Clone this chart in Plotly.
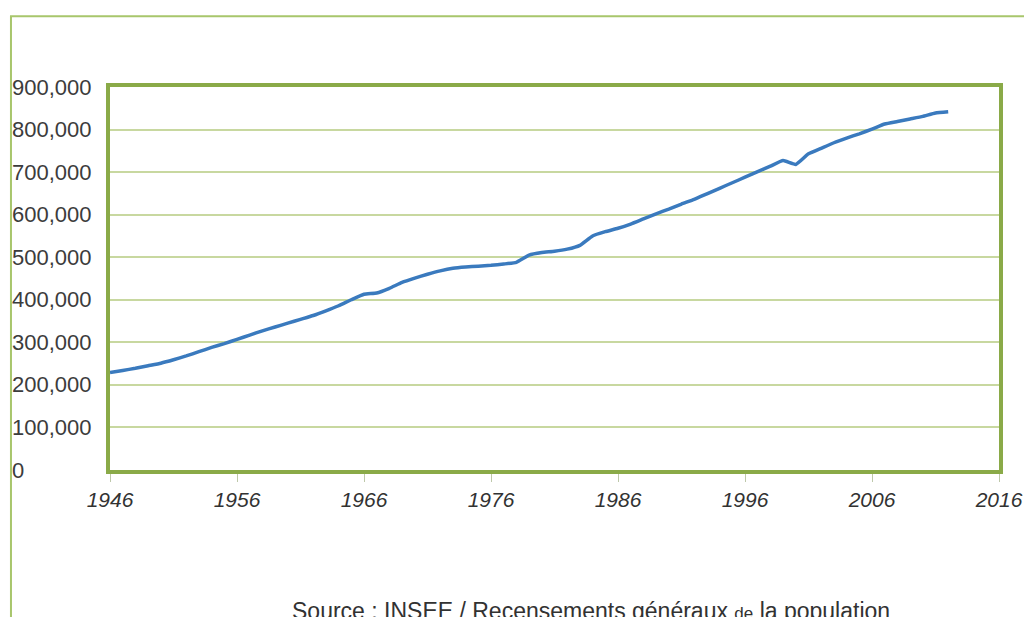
import plotly.graph_objects as go

# population by year
years = list(range(1946, 2013))
population = [
    229000, 234000, 239000, 245000, 251000, 259000, 268000, 278000, 288000,
    297000, 307000, 317000, 327000, 336000, 345000, 354000, 363000, 374000,
    386000, 400000, 413000, 416000, 427000, 441000, 451000, 460000, 468000,
    474000, 477000, 479000, 481000, 484000, 488000, 505000, 511000, 514000,
    519000, 528000, 550000, 560000, 568000, 578000, 590000, 602000, 613000,
    625000, 636000, 649000, 662000, 675000, 688000, 701000, 714000, 727000,
    718000, 743000, 756000, 769000, 780000, 790000, 801000, 813000, 819000,
    825000, 831000, 839000, 842000,
]

x_ticks = [1946, 1956, 1966, 1976, 1986, 1996, 2006, 2016]
y_ticks = [0, 100000, 200000, 300000, 400000, 500000, 600000, 700000,
           800000, 900000]
y_labels = ['0'] + ['{:,}'.format(v) for v in y_ticks[1:]]
source_text = ('Source : INSEE / Recensements généraux '
               '<span style="font-size:17px">de</span> la population')

BORDER = 'rgb(138, 170, 72)'
GRID = 'rgb(200, 216, 160)'
FRAME = 'rgb(168, 198, 108)'
LINE = 'rgb(58, 122, 190)'

fig = go.Figure()
fig.add_trace(
    go.Scatter(
        x=years,
        y=population,
        mode='lines',
        line=dict(color=LINE, width=3.5, shape='spline', smoothing=0.4),
        hoverinfo='x+y',
        showlegend=False,
    )
)

# y tick labels are left aligned at the frame, so place them as annotations
for val, lab in zip(y_ticks, y_labels):
    fig.add_annotation(
        x=-0.113, xref='paper', xanchor='left',
        y=val, yref='y', yanchor='middle',
        text=lab, showarrow=False,
        font=dict(family='Arial, Liberation Sans', size=22,
                  color='rgb(60, 60, 60)'),
    )

fig.add_annotation(
    x=(290 - 110) / 889, xref='paper', xanchor='left',
    y=(470 - 596) / 383, yref='paper', yanchor='top',
    text=source_text, showarrow=False,
    font=dict(family='Arial, Liberation Sans', size=23,
              color='rgb(50, 50, 50)'),
)

# outer light green frame, running off the right and bottom edges
fig.add_shape(
    type='path', xref='paper', yref='paper',
    path='M -0.1114,-0.5 L -0.1114,1.185 L 1.2,1.185',
    line=dict(color=FRAME, width=2),
)

fig.update_layout(
    width=1032,
    height=617,
    margin=dict(l=102, r=41, t=79, b=155),
    paper_bgcolor='white',
    plot_bgcolor='white',
    xaxis=dict(
        range=[1946, 2016],
        tickvals=x_ticks,
        ticks='outside',
        ticklen=8,
        tickwidth=1,
        tickcolor='rgb(190, 200, 170)',
        showgrid=False,
        zeroline=False,
        showline=True,
        linecolor=BORDER,
        linewidth=4,
        mirror=True,
        tickfont=dict(family='Arial, Liberation Sans', size=21,
                      color='rgb(50, 50, 50)', style='italic'),
    ),
    yaxis=dict(
        range=[0, 900000],
        tickvals=y_ticks,
        showticklabels=False,
        showgrid=True,
        gridcolor=GRID,
        gridwidth=2,
        zeroline=False,
        showline=True,
        linecolor=BORDER,
        linewidth=4,
        mirror=True,
    ),
)

fig.write_html('out.html')
